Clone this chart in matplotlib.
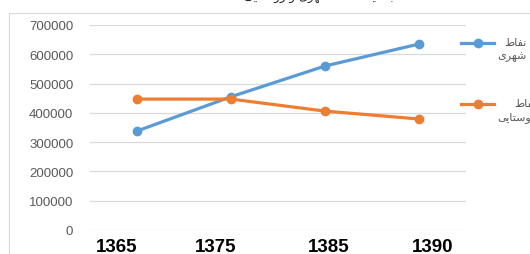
import matplotlib.pyplot as plt
import matplotlib.transforms as mtransforms
from matplotlib.lines import Line2D
from matplotlib.patches import Rectangle

years = ['1365', '1375', '1385', '1390']
urban = [338000, 455000, 560000, 635000]
rural = [447000, 447000, 406000, 379000]

# Persian labels written with presentation forms, visual order (matplotlib does no shaping)
lbl_naghat = '\uFEC1\uFE8E\uFED4\uFEE7'                     # نقاط
lbl_shahri = '\uFEEF\uFEAE\uFEEC\uFEB7'                     # شهری
lbl_rustai = '\uFEF0\uFEF3\uFE8E\uFE98\uFEB3\uFEED\uFEAD'   # روستایی
lbl_jamiat = '\uFE96\uFEF4\uFECC\uFEE4\uFE9F'               # جمعیت
title_txt = ' '.join([lbl_rustai, '\uFEED', lbl_shahri, lbl_naghat, lbl_jamiat])

blue = '#5B9BD5'
orange = '#ED7D31'
gray = '#595959'
W, H = 530, 255

fig = plt.figure(figsize=(W / 100, H / 100), dpi=100)
fig.patch.set_facecolor('white')

# chart area border (cropped on the right and bottom)
fig.add_artist(Rectangle((9 / W, -0.1), 1.0, 1 - 14 / H + 0.1, transform=fig.transFigure,
                         fill=False, edgecolor='#d9d9d9', linewidth=0.8))

ax = fig.add_axes([90 / W, 24 / H, 376 / W, 205 / H])
x = range(len(years))
ax.plot(x, urban, color=blue, lw=2.3, marker='o', ms=6, solid_capstyle='round')
ax.plot(x, rural, color=orange, lw=2.3, marker='o', ms=6, solid_capstyle='round')

ax.set_xlim(-0.5, 3.5)
ax.set_ylim(0, 700000)
ax.set_yticks(range(0, 700001, 100000))
ax.grid(axis='y', color='#d9d9d9', lw=0.9)
ax.set_axisbelow(True)
for s in ax.spines.values():
    s.set_visible(False)
ax.tick_params(axis='y', length=0, pad=12, labelsize=9.5, labelcolor=gray)
ax.tick_params(axis='x', length=0, pad=6)
for lab in ax.get_yticklabels():
    lab.set_family('Liberation Sans')

ax.set_xticks(list(x))
ax.set_xticklabels(years, fontsize=13.5, fontweight='bold', family='Liberation Sans')
# the year labels sit a little off the points in the original
shifts = [-20, -15, 4, 14]
for lab, dx in zip(ax.get_xticklabels(), shifts):
    lab.set_transform(lab.get_transform() + mtransforms.ScaledTranslation(dx / 100, 0, fig.dpi_scale_trans))

# legend on the right, partly cut off by the image edge
for color, yy, txt in [(blue, 44, lbl_naghat + '\n' + lbl_shahri),
                       (orange, 105, lbl_naghat + '\n' + lbl_rustai)]:
    fig.add_artist(Line2D([461 / W, 494 / W], [1 - yy / H] * 2, transform=fig.transFigure,
                          color=color, lw=2.3))
    fig.add_artist(Line2D([478 / W], [1 - yy / H], transform=fig.transFigure,
                          color=color, marker='o', ms=6))
    fig.text(497 / W, 1 - (yy - 6) / H, txt, va='top', ha='left', multialignment='right',
             fontsize=8, color=gray, family='DejaVu Sans', linespacing=1.4)

# title, almost entirely above the crop (only its descenders show)
fig.text(320 / W, 1.0, title_txt, ha='center', va='baseline', fontsize=8.5,
         family='DejaVu Sans', color='#222222')

fig.savefig('out.png', dpi=100)
